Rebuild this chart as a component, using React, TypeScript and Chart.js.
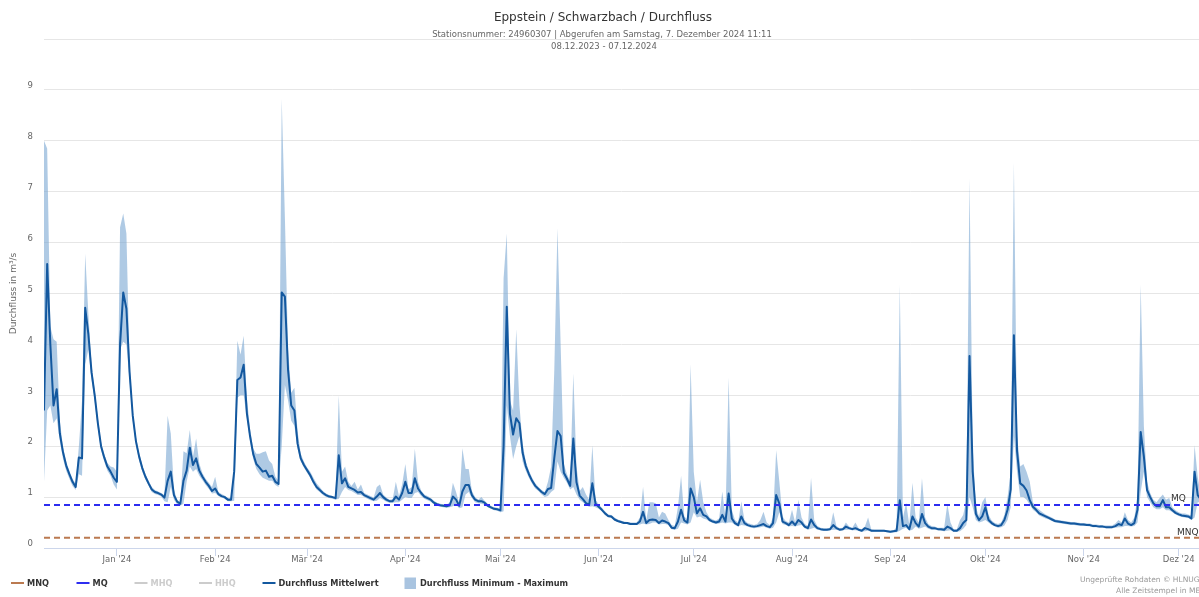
import React, { useEffect, useRef } from 'react';
import { Chart, registerables } from 'chart.js';

Chart.register(...registerables);

// Daily values, day 0 = first day of the period (09.12.2023 stamp), m³/s
const meanFlow: number[] = [
  2.7, 5.58, 4.0, 2.8, 3.12, 2.25, 1.88, 1.62, 1.45, 1.3,
  1.2, 1.78, 1.76, 4.72, 4.2, 3.45, 3.0, 2.45, 2.0, 1.78,
  1.6, 1.5, 1.38, 1.3, 4.0, 5.02, 4.7, 3.45, 2.6, 2.1,
  1.8, 1.57, 1.4, 1.27, 1.15, 1.1, 1.08, 1.05, 0.99, 1.32,
  1.5, 1.04, 0.91, 0.87, 1.32, 1.52, 1.97, 1.63, 1.76, 1.52,
  1.4, 1.3, 1.22, 1.12, 1.17, 1.06, 1.02, 1.0, 0.95, 0.95,
  1.5, 3.3, 3.35, 3.6, 2.65, 2.2, 1.85, 1.65, 1.58, 1.5,
  1.52, 1.4, 1.42, 1.3, 1.26, 5.02, 4.94, 3.5, 2.8, 2.7,
  2.05, 1.76, 1.63, 1.53, 1.43, 1.3, 1.2, 1.14, 1.08, 1.04,
  1.01, 1.0, 0.98, 1.82, 1.27, 1.37, 1.2, 1.17, 1.14, 1.09,
  1.1, 1.04, 1.01, 0.98, 0.95, 1.01, 1.08, 1.0, 0.95, 0.92,
  0.92, 1.01, 0.95, 1.08, 1.3, 1.08, 1.08, 1.37, 1.17, 1.08,
  1.01, 0.98, 0.95, 0.89, 0.86, 0.84, 0.83, 0.82, 0.84, 1.01,
  0.95, 0.83, 1.11, 1.24, 1.24, 1.04, 0.95, 0.92, 0.92, 0.89,
  0.83, 0.8, 0.77, 0.76, 0.74, 2.0, 4.74, 2.64, 2.23, 2.55,
  2.45, 1.87, 1.61, 1.45, 1.32, 1.22, 1.16, 1.1, 1.06, 1.16,
  1.18, 1.77, 2.3, 2.2, 1.48, 1.36, 1.22, 2.15, 1.29, 1.03,
  0.96, 0.88, 0.85, 1.27, 0.87, 0.81, 0.75, 0.68, 0.63, 0.62,
  0.56, 0.53, 0.51, 0.49, 0.49, 0.47, 0.47, 0.47, 0.52, 0.71,
  0.49, 0.55, 0.56, 0.55, 0.49, 0.54, 0.52, 0.49, 0.4, 0.39,
  0.52, 0.75, 0.54, 0.5, 1.17, 1.0, 0.68, 0.78, 0.65, 0.62,
  0.55, 0.52, 0.5, 0.52, 0.65, 0.52, 1.07, 0.58, 0.49, 0.45,
  0.62, 0.49, 0.45, 0.43, 0.42, 0.43, 0.45, 0.47, 0.43, 0.41,
  0.49, 1.04, 0.87, 0.52, 0.49, 0.45, 0.52, 0.45, 0.55, 0.5,
  0.42, 0.39, 0.56, 0.45, 0.39, 0.37, 0.36, 0.36, 0.37, 0.45,
  0.39, 0.36, 0.37, 0.42, 0.39, 0.37, 0.39, 0.36, 0.34, 0.39,
  0.37, 0.34, 0.34, 0.34, 0.34, 0.34, 0.33, 0.32, 0.33, 0.34,
  0.94, 0.43, 0.45, 0.37, 0.62, 0.49, 0.42, 0.67, 0.49, 0.42,
  0.39, 0.39, 0.37, 0.37, 0.36, 0.42, 0.39, 0.34, 0.34, 0.39,
  0.49, 0.55, 3.77, 1.5, 0.67, 0.55, 0.62, 0.8, 0.55, 0.49,
  0.45, 0.43, 0.45, 0.55, 0.75, 1.15, 4.18, 1.9, 1.27, 1.22,
  1.13, 0.94, 0.81, 0.75, 0.68, 0.65, 0.62, 0.59, 0.56, 0.53,
  0.52, 0.51, 0.5, 0.49, 0.48, 0.48, 0.47, 0.46, 0.46, 0.45,
  0.45, 0.43, 0.43, 0.42, 0.42, 0.41, 0.41, 0.41, 0.43, 0.47,
  0.45, 0.58, 0.48, 0.45, 0.49, 0.75, 2.28, 1.8, 1.14, 1.0,
  0.88, 0.82, 0.82, 0.94, 0.8, 0.8, 0.74, 0.69, 0.66, 0.64,
  0.63, 0.62, 0.58, 1.5, 1.04, 0.95,
];

const maxFlow: number[] = [
  8.0, 7.85, 4.35, 4.1, 4.05, 2.5, 1.98, 1.7, 1.52, 1.36,
  1.26, 2.0, 2.9, 5.78, 4.6, 3.6, 3.1, 2.55, 2.08, 1.85,
  1.67, 1.6, 1.58, 1.5, 6.3, 6.57, 6.18, 3.6, 2.7, 2.18,
  1.87, 1.63, 1.46, 1.32, 1.2, 1.14, 1.11, 1.08, 1.04, 2.6,
  2.25, 1.15, 0.95, 0.9, 1.9, 1.86, 2.32, 1.8, 2.15, 1.66,
  1.47, 1.36, 1.28, 1.2, 1.4, 1.1, 1.06, 1.03, 0.98, 0.98,
  1.6, 4.07, 3.8, 4.17, 2.95, 2.35, 1.95, 1.85, 1.85, 1.88,
  1.9, 1.72, 1.65, 1.4, 1.32, 8.82, 6.5, 3.9, 3.05, 3.15,
  2.3, 1.85, 1.7, 1.58, 1.5, 1.38, 1.27, 1.2, 1.12, 1.07,
  1.04, 1.02, 1.0, 3.0, 1.5, 1.6, 1.3, 1.22, 1.3, 1.15,
  1.25, 1.08, 1.05, 1.02, 0.99, 1.2, 1.25, 1.05, 0.99, 0.95,
  0.96, 1.3, 1.02, 1.25, 1.65, 1.15, 1.2, 1.95, 1.3, 1.13,
  1.05, 1.02, 0.98, 0.93, 0.89, 0.87, 0.86, 0.85, 0.9, 1.28,
  1.1, 0.88, 1.96, 1.55, 1.55, 1.12, 1.0, 0.95, 1.0, 0.93,
  0.87, 0.83, 0.8, 0.79, 0.77, 5.3, 6.18, 2.9, 2.7, 4.3,
  2.8, 2.05, 1.7, 1.52, 1.38, 1.27, 1.2, 1.14, 1.1, 1.3,
  1.6, 3.5, 6.28, 4.0, 1.65, 1.45, 1.3, 3.43, 1.6, 1.12,
  1.2, 1.05, 0.95, 2.02, 0.95, 0.86, 0.79, 0.72, 0.66, 0.65,
  0.6, 0.56, 0.54, 0.52, 0.51, 0.5, 0.5, 0.5, 0.6, 1.2,
  0.55, 0.9, 0.9, 0.88, 0.6, 0.71, 0.68, 0.55, 0.45, 0.43,
  0.8, 1.42, 0.62, 0.56, 3.61, 1.5, 0.9, 1.34, 0.9, 0.7,
  0.6, 0.56, 0.54, 0.58, 1.11, 0.6, 3.35, 0.75, 0.55, 0.5,
  0.92, 0.55, 0.49, 0.47, 0.45, 0.47, 0.55, 0.71, 0.5, 0.45,
  0.6, 1.92, 1.3, 0.62, 0.53, 0.5, 0.75, 0.5, 0.95, 0.6,
  0.47, 0.43, 1.38, 0.55, 0.43, 0.4, 0.39, 0.39, 0.4, 0.7,
  0.43, 0.39, 0.4, 0.5, 0.42, 0.4, 0.5, 0.39, 0.37, 0.42,
  0.6, 0.37, 0.36, 0.36, 0.36, 0.36, 0.35, 0.34, 0.35, 0.4,
  5.17, 0.6, 0.89, 0.45, 1.28, 0.6, 0.5, 1.37, 0.6, 0.47,
  0.43, 0.42, 0.4, 0.4, 0.4, 0.87, 0.5, 0.37, 0.37, 0.55,
  0.65, 0.95, 7.26, 2.0, 0.8, 0.62, 0.9, 1.0, 0.65, 0.54,
  0.49, 0.47, 0.5, 0.65, 1.0, 1.5, 7.57, 2.2, 1.6, 1.65,
  1.5, 1.3, 0.9, 0.8, 0.75, 0.7, 0.66, 0.63, 0.6, 0.56,
  0.55, 0.54, 0.53, 0.52, 0.51, 0.51, 0.5, 0.49, 0.49, 0.48,
  0.48, 0.46, 0.46, 0.45, 0.45, 0.44, 0.44, 0.44, 0.48, 0.55,
  0.5, 0.7, 0.55, 0.5, 0.6, 1.0, 5.17, 2.4, 1.3, 1.08,
  0.95, 0.9, 0.98, 1.05, 0.95, 0.98, 0.8, 0.74, 0.7, 0.68,
  0.68, 0.66, 0.64, 2.02, 1.4, 1.0,
];

const minFlow: number[] = [
  1.3, 2.7, 2.8, 2.45, 2.55, 2.1, 1.75, 1.52, 1.36, 1.22,
  1.14, 1.45, 1.42, 3.6, 3.9, 3.3, 2.88, 2.35, 1.92, 1.7,
  1.52, 1.42, 1.25, 1.15, 3.9, 4.05, 4.0, 3.3, 2.5, 2.02,
  1.72, 1.5, 1.34, 1.22, 1.1, 1.06, 1.04, 1.01, 0.92, 0.9,
  1.2, 0.95, 0.86, 0.83, 0.87, 1.3, 1.6, 1.5, 1.55, 1.42,
  1.33, 1.24, 1.16, 1.07, 1.08, 1.02, 0.99, 0.97, 0.92, 0.92,
  0.93, 2.95, 3.0, 3.0, 2.55, 2.1, 1.75, 1.55, 1.45, 1.38,
  1.35, 1.32, 1.32, 1.24, 1.2, 2.0, 3.2, 2.9, 2.5, 2.4,
  1.95, 1.7, 1.58, 1.48, 1.38, 1.25, 1.15, 1.1, 1.04, 1.0,
  0.98, 0.97, 0.95, 0.97, 1.1, 1.2, 1.14, 1.12, 1.08, 1.04,
  1.04, 1.0, 0.97, 0.94, 0.92, 0.93, 0.98, 0.95, 0.91, 0.89,
  0.89, 0.9, 0.9, 0.95, 1.0, 0.98, 0.98, 1.08, 1.1, 1.02,
  0.97, 0.94, 0.91, 0.86, 0.83, 0.81, 0.8, 0.79, 0.8, 0.82,
  0.85, 0.78, 0.8, 1.05, 1.1, 0.98, 0.9, 0.88, 0.87, 0.85,
  0.8, 0.77, 0.74, 0.73, 0.7, 0.72, 2.8, 2.2, 1.75, 2.0,
  2.2, 1.7, 1.52, 1.38, 1.26, 1.17, 1.12, 1.05, 1.0, 1.02,
  1.1, 1.15, 1.7, 1.5, 1.38, 1.28, 1.15, 1.2, 1.05, 0.95,
  0.9, 0.84, 0.81, 0.82, 0.8, 0.77, 0.72, 0.65, 0.6, 0.59,
  0.54, 0.51, 0.49, 0.47, 0.47, 0.45, 0.45, 0.45, 0.46, 0.48,
  0.46, 0.47, 0.5, 0.5, 0.46, 0.47, 0.47, 0.45, 0.37, 0.36,
  0.38, 0.5, 0.48, 0.46, 0.5, 0.7, 0.6, 0.62, 0.58, 0.56,
  0.52, 0.49, 0.47, 0.48, 0.5, 0.48, 0.5, 0.5, 0.45, 0.42,
  0.45, 0.44, 0.42, 0.4, 0.39, 0.4, 0.41, 0.42, 0.4, 0.38,
  0.4, 0.5, 0.7, 0.47, 0.45, 0.42, 0.43, 0.42, 0.44, 0.45,
  0.39, 0.36, 0.38, 0.4, 0.36, 0.35, 0.34, 0.34, 0.35, 0.36,
  0.36, 0.34, 0.35, 0.36, 0.36, 0.35, 0.35, 0.34, 0.32, 0.33,
  0.34, 0.32, 0.32, 0.32, 0.32, 0.32, 0.31, 0.3, 0.31, 0.31,
  0.34, 0.38, 0.4, 0.34, 0.36, 0.42, 0.38, 0.4, 0.42, 0.38,
  0.36, 0.36, 0.35, 0.34, 0.33, 0.34, 0.35, 0.32, 0.32, 0.33,
  0.38, 0.45, 1.0, 0.8, 0.55, 0.5, 0.52, 0.55, 0.5, 0.45,
  0.42, 0.4, 0.41, 0.44, 0.55, 0.8, 2.2, 1.5, 1.0, 1.0,
  0.95, 0.85, 0.75, 0.7, 0.64, 0.61, 0.58, 0.56, 0.53, 0.5,
  0.49, 0.48, 0.47, 0.46, 0.45, 0.45, 0.44, 0.44, 0.43, 0.43,
  0.42, 0.41, 0.41, 0.4, 0.4, 0.39, 0.39, 0.39, 0.4, 0.41,
  0.41, 0.43, 0.43, 0.42, 0.43, 0.5, 1.1, 1.5, 1.0, 0.9,
  0.8, 0.76, 0.76, 0.8, 0.74, 0.74, 0.7, 0.66, 0.63, 0.61,
  0.6, 0.59, 0.55, 0.6, 0.9, 0.9,
];

const MQ_VALUE = 0.845;
const MNQ_VALUE = 0.2;

const monthTickDays = [23, 54, 83, 114, 144, 175, 205, 236, 267, 297, 328, 358];
const monthTickLabels = [
  "Jan '24", "Feb '24", "Mär '24", "Apr '24", "Mai '24", "Jun '24",
  "Jul '24", "Aug '24", "Sep '24", "Okt '24", "Nov '24", "Dez '24",
];
const yTickValues = [0, 1, 2, 3, 4, 5, 6, 7, 8, 9, 10];

const legendLabels = ['MNQ', 'MQ', 'MHQ', 'HHQ', 'Durchfluss Mittelwert', 'Durchfluss Minimum - Maximum'];

const FONT = "'DejaVu Sans', 'Open Sans', sans-serif";
const MEAN_COLOR = '#13589f';
const BAND_COLOR = 'rgba(118, 163, 208, 0.58)';
const BAND_LEGEND = '#a9c4e0';
const MQ_COLOR = '#2d2df0';
const MNQ_COLOR = '#bb7a50';
const HIDDEN_COLOR = '#cccccc';

export default function App() {
  const canvasRef = useRef<HTMLCanvasElement | null>(null);

  useEffect(() => {
    const canvas = canvasRef.current;
    if (!canvas) return;
    const toXY = (arr: number[]) => arr.map((v, i) => ({ x: i, y: v }));
    const lastDay = meanFlow.length;

    const overlay = {
      id: 'overlay',
      afterDraw(chart: any) {
        const ctx = chart.ctx as CanvasRenderingContext2D;
        const yScale = chart.scales.y;
        ctx.save();
        // Titles
        ctx.textAlign = 'center';
        ctx.textBaseline = 'middle';
        ctx.fillStyle = '#333333';
        ctx.font = `12px ${FONT}`;
        ctx.fillText('Eppstein / Schwarzbach / Durchfluss', 603, 18);
        ctx.fillStyle = '#666666';
        ctx.font = `8.5px ${FONT}`;
        ctx.fillText('Stationsnummer: 24960307 | Abgerufen am Samstag, 7. Dezember 2024 11:11', 602, 34.5);
        ctx.fillText('08.12.2023 - 07.12.2024', 604, 47);

        // Plot line labels
        ctx.textAlign = 'left';
        ctx.textBaseline = 'alphabetic';
        ctx.fillStyle = '#333333';
        ctx.font = `9px ${FONT}`;
        ctx.fillText('MQ', 1171, yScale.getPixelForValue(MQ_VALUE) - 3.5);
        ctx.fillText('MNQ', 1177, yScale.getPixelForValue(MNQ_VALUE) - 3);

        // Legend
        const ly = 583;
        const xs = [11, 76.5, 134.5, 199, 262.5, 404.5];
        const colors = [MNQ_COLOR, MQ_COLOR, HIDDEN_COLOR, HIDDEN_COLOR, MEAN_COLOR, BAND_LEGEND];
        const active = [true, true, false, false, true, true];
        ctx.textBaseline = 'middle';
        ctx.font = `bold 8.2px ${FONT}`;
        legendLabels.forEach((lab, i) => {
          const x = xs[i];
          if (i < 5) {
            ctx.strokeStyle = colors[i];
            ctx.lineWidth = 2;
            ctx.beginPath();
            ctx.moveTo(x, ly);
            ctx.lineTo(x + 13, ly);
            ctx.stroke();
            ctx.fillStyle = active[i] ? '#333333' : HIDDEN_COLOR;
            ctx.fillText(lab, x + 16, ly + 0.5);
          } else {
            ctx.fillStyle = colors[i];
            ctx.fillRect(x, ly - 5.5, 11.5, 11.5);
            ctx.fillStyle = '#333333';
            ctx.fillText(lab, x + 15.5, ly + 0.5);
          }
        });

        // Credits
        ctx.font = `7.5px ${FONT}`;
        ctx.fillStyle = '#999999';
        ctx.fillText('Ungeprüfte Rohdaten © HLNUG', 1080, 580);
        ctx.fillText('Alle Zeitstempel in MEZ', 1116, 591);
        ctx.restore();
      },
    };

    const chart = new Chart(canvas, {
      type: 'line',
      data: {
        datasets: [
          {
            label: 'MQ',
            data: [{ x: 0, y: MQ_VALUE }, { x: lastDay, y: MQ_VALUE }],
            borderColor: MQ_COLOR,
            borderWidth: 2,
            borderDash: [6, 4],
            pointRadius: 0,
            fill: false,
            order: 1,
          },
          {
            label: 'MNQ',
            data: [{ x: 0, y: MNQ_VALUE }, { x: lastDay, y: MNQ_VALUE }],
            borderColor: MNQ_COLOR,
            borderWidth: 2,
            borderDash: [6, 4],
            pointRadius: 0,
            fill: false,
            order: 2,
          },
          {
            label: 'Durchfluss Mittelwert',
            data: toXY(meanFlow),
            borderColor: MEAN_COLOR,
            borderWidth: 2,
            borderJoinStyle: 'round',
            pointRadius: 0,
            fill: false,
            tension: 0,
            order: 3,
          },
          {
            label: 'Durchfluss Maximum',
            data: toXY(maxFlow),
            borderColor: 'rgba(0,0,0,0)',
            borderWidth: 0,
            backgroundColor: BAND_COLOR,
            pointRadius: 0,
            fill: '+1',
            tension: 0,
            order: 4,
          },
          {
            label: 'Durchfluss Minimum',
            data: toXY(minFlow),
            borderColor: 'rgba(0,0,0,0)',
            borderWidth: 0,
            pointRadius: 0,
            fill: false,
            tension: 0,
            order: 5,
          },
        ],
      },
      options: {
        responsive: false,
        animation: false,
        devicePixelRatio: 1,
        events: [],
        parsing: true,
        layout: { padding: { top: 39, left: 0, right: 0, bottom: 0 } },
        plugins: {
          legend: { display: false },
          title: { display: false },
          tooltip: { enabled: false },
        },
        scales: {
          x: {
            type: 'linear',
            min: 0,
            max: 364.4,
            afterBuildTicks: (scale: any) => {
              scale.ticks = monthTickDays.map((v) => ({ value: v }));
            },
            afterFit: (scale: any) => {
              scale.height = 49;
              scale.paddingLeft = 0;
              scale.paddingRight = 0;
            },
            ticks: {
              autoSkip: false,
              maxRotation: 0,
              minRotation: 0,
              padding: 0,
              color: '#666666',
              font: { family: FONT, size: 8.5, lineHeight: 1 },
              callback: (_v: any, i: number) => monthTickLabels[i] ?? '',
            },
            grid: {
              display: true,
              drawOnChartArea: false,
              drawTicks: true,
              tickLength: 8,
              color: '#ccd6eb',
              lineWidth: 1,
            },
            border: { display: true, color: '#ccd6eb', width: 1 },
          },
          y: {
            type: 'linear',
            min: 0,
            max: 10,
            afterBuildTicks: (scale: any) => {
              scale.ticks = yTickValues.map((v) => ({ value: v }));
            },
            afterFit: (scale: any) => {
              scale.width = 44;
              scale.paddingTop = 0;
              scale.paddingBottom = 0;
            },
            ticks: {
              padding: 11,
              color: '#666666',
              labelOffset: -4,
              font: { family: FONT, size: 8.5 },
              callback: (v: any) => (v === 10 ? '' : String(v)),
            },
            grid: {
              color: (c: any) => (c.tick && c.tick.value === 0 ? 'rgba(0,0,0,0)' : '#e6e6e6'),
              drawTicks: false,
              lineWidth: 1,
            },
            border: { display: false },
            title: {
              display: true,
              text: 'Durchfluss in m³/s',
              color: '#666666',
              font: { family: FONT, size: 9 },
              padding: { top: 8.6, bottom: 0 },
            },
          },
        },
      },
      plugins: [overlay],
    } as any);

    return () => {
      chart.destroy();
    };
  }, []);

  return (
    <div
      style={{
        position: 'fixed',
        left: 0,
        top: 0,
        width: 1199,
        height: 597,
        overflow: 'hidden',
        background: '#ffffff',
      }}
    >
      <canvas
        ref={canvasRef}
        width={1199}
        height={597}
        style={{ display: 'block', width: 1199, height: 597 }}
      />
    </div>
  );
}
